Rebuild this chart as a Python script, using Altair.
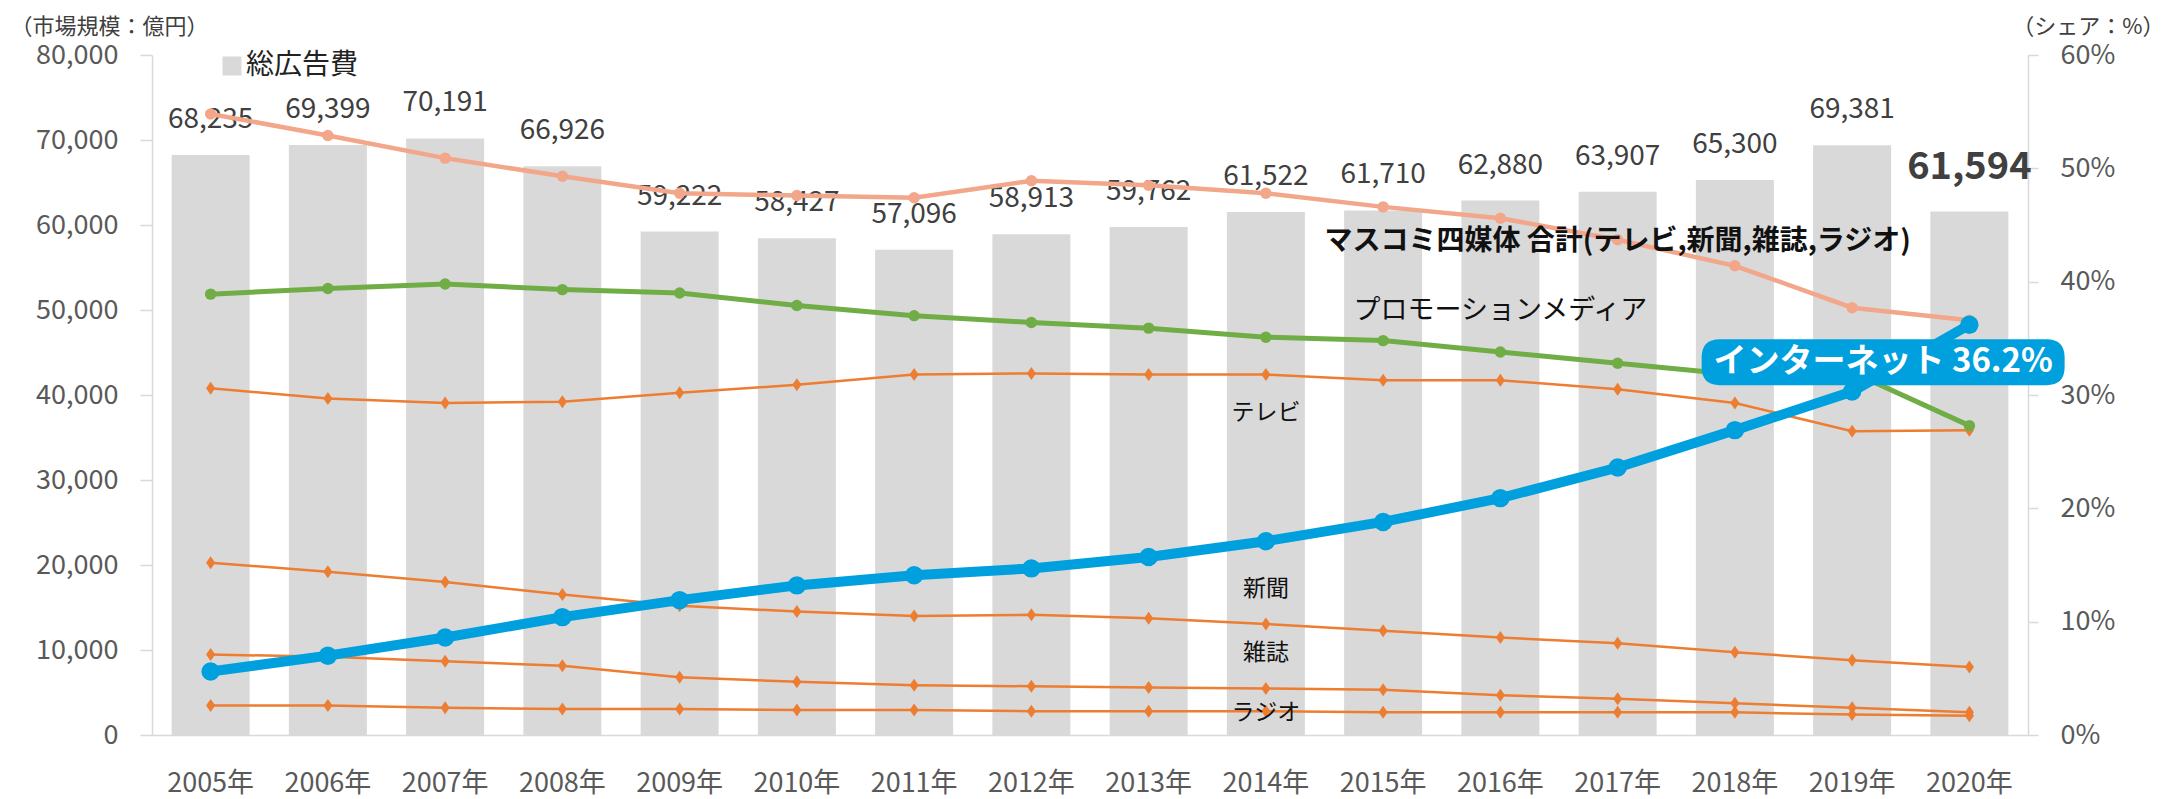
import altair as alt
import pandas as pd

# ---------------- data ----------------
years = [f"{y}年" for y in range(2005, 2021)]
total_ad = [68235, 69399, 70191, 66926, 59222, 58427, 57096, 58913,
            59762, 61522, 61710, 62880, 63907, 65300, 69381, 61594]
mass4 = [54.8, 52.9, 50.9, 49.3, 47.8, 47.6, 47.4, 48.9,
         48.5, 47.8, 46.6, 45.6, 43.7, 41.4, 37.7, 36.6]
promo = [38.9, 39.4, 39.8, 39.3, 39.0, 37.9, 37.0, 36.4,
         35.9, 35.1, 34.8, 33.8, 32.8, 31.8, 32.0, 27.3]
internet = [5.6, 7.0, 8.6, 10.4, 11.9, 13.2, 14.1, 14.7,
            15.7, 17.1, 18.8, 20.9, 23.6, 26.9, 30.3, 36.2]
tv = [30.6, 29.7, 29.3, 29.4, 30.2, 30.9, 31.8, 31.9,
      31.8, 31.8, 31.3, 31.3, 30.5, 29.3, 26.8, 26.9]
newspaper = [15.2, 14.4, 13.5, 12.4, 11.4, 10.9, 10.5, 10.6,
             10.3, 9.8, 9.2, 8.6, 8.1, 7.3, 6.6, 6.0]
magazine = [7.1, 6.9, 6.5, 6.1, 5.1, 4.7, 4.4, 4.3,
            4.2, 4.1, 4.0, 3.5, 3.2, 2.8, 2.4, 2.0]
radio = [2.6, 2.6, 2.4, 2.3, 2.3, 2.2, 2.2, 2.1,
         2.1, 2.1, 2.0, 2.0, 2.0, 2.0, 1.8, 1.7]

bar_name = "総広告費"
left_title = "（市場規模：億円）"
right_title = "（シェア：%）"

label_texts = ["マスコミ四媒体 合計(テレビ,新聞,雑誌,ラジオ)", "プロモーションメディア",
               "テレビ", "新聞", "雑誌", "ラジオ"]
label_years = ["2017年", "2016年", "2014年", "2014年", "2014年", "2014年"]
label_shares = [43.5, 37.4, 28.4, 12.9, 7.2, 1.9]

net_label = "インターネット 36.2%"
net_label_year = "2019年"
net_label_share = 32.9

# ---------------- tables ----------------
bar_df = pd.DataFrame({"year": years, "total": total_ad, "name": bar_name})
bar_df["label"] = [f"{v:,}" for v in total_ad]

def long(name, vals):
    return pd.DataFrame({"year": years, "series": name, "share": vals})

thin_df = pd.concat([long("テレビ", tv), long("新聞", newspaper),
                     long("雑誌", magazine), long("ラジオ", radio)])
mass_df = long("マスコミ四媒体", mass4)
promo_df = long("プロモーションメディア", promo)
net_df = long("インターネット", internet)
lab_df = pd.DataFrame({"year": label_years, "share": label_shares, "text": label_texts})
net_lab_df = pd.DataFrame({"year": [net_label_year], "share": [net_label_share], "text": [net_label]})

# ---------------- encodings ----------------
F = "Noto Sans CJK JP"
AX = "#D9D9D9"
LAB = "#595959"

x_enc = alt.X("year:N", sort=years,
              scale=alt.Scale(domain=years, paddingInner=0.335, paddingOuter=0.1675),
              axis=alt.Axis(title=None, labelAngle=0, labelFontSize=27, labelColor=LAB,
                            labelFont=F, ticks=False, tickSize=0, labelPadding=35,
                            domainColor=AX, domainWidth=1.5, grid=False))

y_left = alt.Y("total:Q",
               scale=alt.Scale(domain=[0, 80000], nice=False, zero=True),
               axis=alt.Axis(values=list(range(0, 80001, 10000)), format=",d",
                             title=left_title, titleAngle=0, titleAlign="left",
                             titleBaseline="middle", titleX=-142, titleY=-29,
                             titleFontSize=22, titleFontWeight="normal",
                             titleColor="#404040", titleFont=F,
                             labelFontSize=27, labelColor=LAB, labelFont=F,
                             tickSize=12, tickColor=AX, tickWidth=1.5, labelPadding=22,
                             domainColor=AX, domainWidth=1.5, grid=False))

y_right = alt.Y("share:Q",
                scale=alt.Scale(domain=[0, 60], nice=False, zero=True),
                axis=alt.Axis(orient="right", values=list(range(0, 61, 10)),
                              labelExpr="datum.value + '%'",
                              title=right_title, titleAngle=0, titleAlign="right",
                              titleBaseline="middle", titleX=136, titleY=-29,
                              titleFontSize=22, titleFontWeight="normal",
                              titleColor="#404040", titleFont=F,
                              labelFontSize=27, labelColor=LAB, labelFont=F,
                              tickSize=10, tickColor=AX, tickWidth=1.5, labelPadding=22,
                              domainColor=AX, domainWidth=1.5, grid=False))

# ---------------- left group ----------------
bars = alt.Chart(bar_df).mark_bar(size=78).encode(
    x=x_enc, y=y_left,
    fill=alt.Fill("name:N", scale=alt.Scale(range=["#D9D9D9"]),
                  legend=alt.Legend(title=None, orient="none", legendX=66, legendY=-3,
                                    symbolType="square", symbolSize=361,
                                    symbolStrokeWidth=0, labelFontSize=28,
                                    labelFont=F, labelColor="#222222",
                                    labelOffset=0, padding=0)))

bar_text = alt.Chart(bar_df).transform_filter(
    alt.datum.year != "2020年").mark_text(
    fontSize=28, font=F, color="#404040", baseline="middle", dy=-35).encode(
    x=x_enc, y=y_left, text="label:N")

bar_text_bold = alt.Chart(bar_df).transform_filter(
    alt.datum.year == "2020年").mark_text(
    fontSize=38, font=F, fontWeight="bold", color="#404040", baseline="middle", dy=-43).encode(
    x=x_enc, y=y_left, text="label:N")

left = alt.layer(bars, bar_text, bar_text_bold)

# ---------------- right group ----------------
diamond = "M0,-1 L0.7,0 L0,1 L-0.7,0 Z"
pill = ("M-0.9,-0.1267 L0.9,-0.1267 Q1,-0.1267 1,-0.0267 L1,0.0267 Q1,0.1267 0.9,0.1267 "
        "L-0.9,0.1267 Q-1,0.1267 -1,0.0267 L-1,-0.0267 Q-1,-0.1267 -0.9,-0.1267 Z")

thin = alt.Chart(thin_df).mark_line(
    color="#ED7D31", strokeWidth=2.5,
    point=alt.OverlayMarkDef(shape=diamond, size=169, filled=True, fill="#ED7D31",
                             opacity=1)).encode(
    x=x_enc, y=y_right, detail="series:N")

mass_line = alt.Chart(mass_df).mark_line(
    color="#F2A68A", strokeWidth=4.5,
    point=alt.OverlayMarkDef(shape="circle", size=130, filled=True, fill="#F2A68A",
                             opacity=1)).encode(x=x_enc, y=y_right)

promo_line = alt.Chart(promo_df).mark_line(
    color="#70AD47", strokeWidth=5,
    point=alt.OverlayMarkDef(shape="circle", size=130, filled=True, fill="#70AD47",
                             opacity=1)).encode(x=x_enc, y=y_right)

net_line = alt.Chart(net_df).mark_line(
    color="#00A0DE", strokeWidth=10,
    point=alt.OverlayMarkDef(shape="circle", size=340, filled=True, fill="#00A0DE",
                             opacity=1)).encode(x=x_enc, y=y_right)

net_box = alt.Chart(net_lab_df).mark_point(
    shape=pill, size=363 ** 2, filled=True, fill="#00A0DE", opacity=1,
    strokeWidth=0, xOffset=31).encode(x=x_enc, y=y_right)

net_text = alt.Chart(net_lab_df).mark_text(
    fontSize=33, font=F, fontWeight="bold", color="white", baseline="middle",
    dx=31).encode(x=x_enc, y=y_right, text="text:N")

lab_bold = alt.Chart(lab_df).transform_filter(
    alt.datum.text == label_texts[0]).mark_text(
    fontSize=28, font=F, fontWeight="bold", color="#111111", baseline="middle").encode(
    x=x_enc, y=y_right, text="text:N")

lab_mid = alt.Chart(lab_df).transform_filter(
    alt.datum.text == label_texts[1]).mark_text(
    fontSize=27, font=F, color="#111111", baseline="middle").encode(
    x=x_enc, y=y_right, text="text:N")

lab_small = alt.Chart(lab_df).transform_filter(
    (alt.datum.text != label_texts[0]) & (alt.datum.text != label_texts[1])).mark_text(
    fontSize=23, font=F, color="#111111", baseline="middle").encode(
    x=x_enc, y=y_right, text="text:N")

right = alt.layer(thin, mass_line, promo_line, net_line, lab_bold, lab_mid, lab_small,
                  net_box, net_text)

chart = alt.layer(left, right).resolve_scale(y="independent").properties(
    width=1876, height=680,
    autosize=alt.AutoSizeParams(type="none"),
    padding={"left": 144, "top": 47, "right": 138, "bottom": 64},
    background="white",
).configure_view(stroke=None)

chart.save("out.html", embed_options={"renderer": "svg", "actions": False})
